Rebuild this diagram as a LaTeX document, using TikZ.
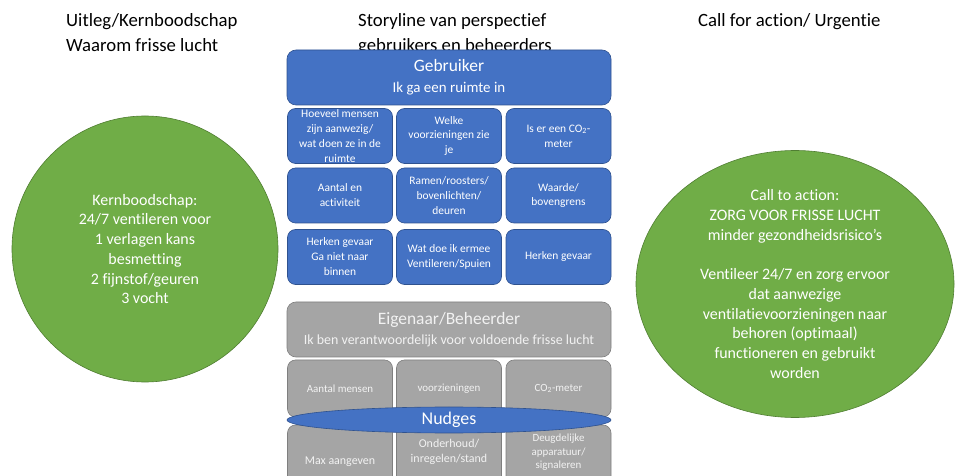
\documentclass[tikz,border=0pt]{standalone}
\usepackage{fontspec}
\setmainfont[Ligatures={NoCommon}]{Carlito}
\usetikzlibrary{shapes.geometric}
\definecolor{pblue}{HTML}{4472C4}
\definecolor{pblueedge}{HTML}{2F528F}
\definecolor{pgreen}{HTML}{70AD47}
\definecolor{pgreenedge}{HTML}{507E32}
\definecolor{pgray}{HTML}{A5A5A5}
\definecolor{pgrayedge}{HTML}{7F7F7F}
\definecolor{pgraytext}{HTML}{F2F2F2}
\tikzset{
  heading/.style={anchor=north west, inner sep=0pt, align=left, font=\fontsize{18.8}{25}\selectfont},
  bluehead/.style={draw=pblueedge, line width=0.6bp, fill=pblue, rounded corners=9bp, minimum width=324bp, minimum height=55bp, text=white, align=center, inner sep=0pt},
  bluebox/.style={draw=pblueedge, line width=0.6bp, fill=pblue, rounded corners=8bp, minimum width=105bp, minimum height=55bp, text=white, align=center, inner sep=1bp, font=\fontsize{11.5}{15}\selectfont},
  grayhead/.style={draw=pgrayedge, line width=0.6bp, fill=pgray, rounded corners=9bp, minimum width=324bp, minimum height=55bp, text=pgraytext, align=center, inner sep=0pt},
  graybox/.style={draw=pgrayedge, line width=0.6bp, fill=pgray, rounded corners=8bp, minimum width=105bp, text=pgraytext, align=center, inner sep=1bp},
  graytext/.style={text=pgraytext, align=center, inner sep=0pt},
  greenshape/.style={draw=pgreenedge, line width=0.6bp, fill=pgreen, text=white, align=center, inner sep=0pt, font=\fontsize{16}{19.8}\selectfont},
}
\begin{document}
\begin{tikzpicture}[x=1bp,y=-1bp]
\useasboundingbox (0,0) rectangle (957,476);
\clip (0,0) rectangle (957,476);

% headings
\node[heading] (h1) at (66,13) {Uitleg/Kernboodschap\\Waarom frisse lucht};
\node[heading] (h2) at (358,13) {Storyline van perspectief\\gebruikers en beheerders};
\node[heading] (h3) at (698,13) {Call for action/ Urgentie};

% green circles
\node[greenshape, circle, minimum size=266bp] (kern) at (145,249)
  {Kernboodschap:\\24/7 ventileren voor\\1 verlagen kans\\besmetting\\2 fijnstof/geuren\\3 vocht};
\node[greenshape, ellipse, minimum width=318bp, minimum height=244bp] (call) at (795,284)
  {Call to action:\\ZORG VOOR FRISSE LUCHT\\minder gezondheidsrisico’s\\[19.8bp]Ventileer 24/7 en zorg ervoor\\dat aanwezige\\ventilatievoorzieningen naar\\behoren (optimaal)\\functioneren en gebruikt\\worden};

% user (blue)
\node[bluehead, font=\fontsize{15}{21}\selectfont] (user) at (449,77.5)
  {{\fontsize{17.5}{21}\selectfont Gebruiker}\\Ik ga een ruimte in};
\node[bluebox] (b11) at (340,136) {Hoeveel mensen\\zijn aanwezig/\\wat doen ze in de\\ruimte};
\node[bluebox] (b12) at (449,136) {Welke\\voorzieningen zie\\je};
\node[bluebox] (b13) at (558.5,136) {Is er een CO\textsubscript{2}-\\meter};
\node[bluebox] (b21) at (340,195.5) {Aantal en\\activiteit};
\node[bluebox] (b22) at (449,195.5) {Ramen/roosters/\\bovenlichten/\\deuren};
\node[bluebox] (b23) at (558.5,195.5) {Waarde/\\bovengrens};
\node[bluebox] (b31) at (340,257) {Herken gevaar\\Ga niet naar\\binnen};
\node[bluebox] (b32) at (449,257) {Wat doe ik ermee\\Ventileren/Spuien};
\node[bluebox] (b33) at (558.5,257) {Herken gevaar};

% owner (gray)
\node[grayhead, font=\fontsize{14}{19.5}\selectfont] (owner) at (449,329.5)
  {{\fontsize{17.5}{19.5}\selectfont Eigenaar/Beheerder}\\Ik ben verantwoordelijk voor voldoende frisse lucht};
\node[graybox, minimum height=57bp, font=\fontsize{11}{14}\selectfont] (g11) at (340,388.5) {Aantal mensen};
\node[graybox, minimum height=57bp, font=\fontsize{11}{14}\selectfont] (g12) at (449,388.5) {voorzieningen};
\node[graybox, minimum height=57bp, font=\fontsize{11}{14}\selectfont] (g13) at (558.5,388.5) {CO\textsubscript{2}-meter};
\node[graybox, minimum height=80bp] (g21) at (340,465) {};
\node[graybox, minimum height=80bp] (g22) at (449,465) {};
\node[graybox, minimum height=80bp] (g23) at (558.5,465) {};
\node[graytext, font=\fontsize{12}{15}\selectfont] (t21) at (340,462) {Max aangeven};
\node[graytext, font=\fontsize{12}{15}\selectfont] (t22) at (449,452) {Onderhoud/\\inregelen/stand};
\node[graytext, font=\fontsize{11}{13.5}\selectfont] (t23) at (558.5,452.5) {Deugdelijke\\apparatuur/\\signaleren};

% nudges
\node[ellipse, draw=pblueedge, line width=0.6bp, fill=pblue, text=white, minimum width=324bp, minimum height=26bp, inner sep=0pt, font=\fontsize{18}{20}\selectfont] (nudges) at (449,420) {Nudges};
\end{tikzpicture}
\end{document}
